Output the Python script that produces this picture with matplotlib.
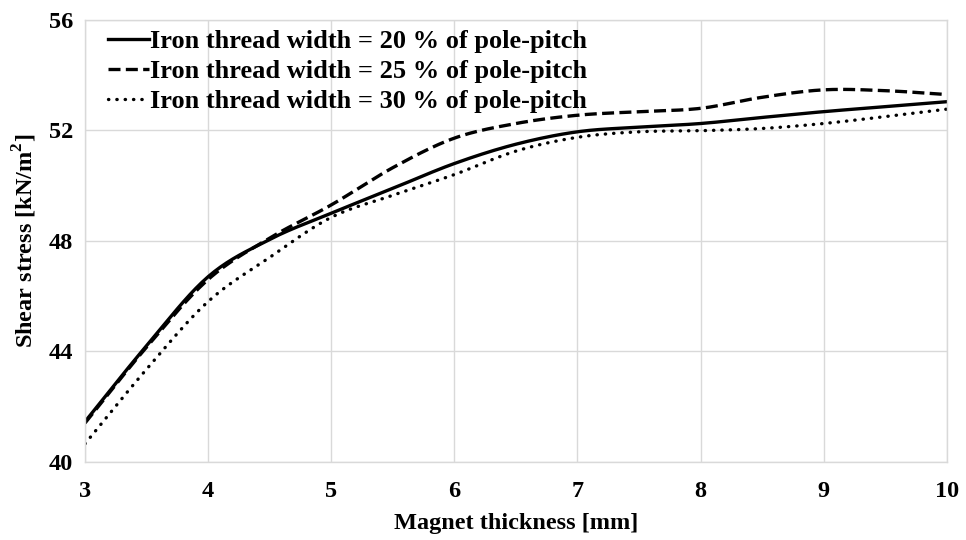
import numpy as np
import matplotlib
matplotlib.use("Agg")
import matplotlib.pyplot as plt

thickness = [3, 3.5, 4, 4.5, 5, 5.5, 6, 6.5, 7, 7.5, 8, 8.5, 9, 9.5, 10]
stress_20 = [41.45, 44.2, 46.7, 48.05, 49.0, 49.9, 50.8, 51.5, 51.95, 52.12, 52.25, 52.47, 52.68, 52.86, 53.04]
stress_25 = [41.4, 44.15, 46.6, 48.1, 49.3, 50.65, 51.72, 52.25, 52.55, 52.68, 52.8, 53.2, 53.47, 53.44, 53.3]
stress_30 = [40.65, 43.35, 45.8, 47.4, 48.85, 49.65, 50.4, 51.25, 51.75, 51.95, 51.99, 52.07, 52.25, 52.5, 52.77]
labels = ["Iron thread width = 20 % of pole-pitch",
          "Iron thread width = 25 % of pole-pitch",
          "Iron thread width = 30 % of pole-pitch"]
x_ticks = [3, 4, 5, 6, 7, 8, 9, 10]
y_ticks = [40, 44, 48, 52, 56]


def smooth(x, y, n=20):
    # Catmull-Rom rendering (Excel-style smoothed line)
    x = np.asarray(x, float); y = np.asarray(y, float)
    px = np.concatenate([[2 * x[0] - x[1]], x, [2 * x[-1] - x[-2]]])
    py = np.concatenate([[2 * y[0] - y[1]], y, [2 * y[-1] - y[-2]]])
    xs, ys = [], []
    t = np.linspace(0, 1, n, endpoint=False)
    for i in range(1, len(px) - 2):
        def cr(a0, a1, a2, a3):
            return 0.5 * ((2 * a1) + (-a0 + a2) * t + (2 * a0 - 5 * a1 + 4 * a2 - a3) * t ** 2
                          + (-a0 + 3 * a1 - 3 * a2 + a3) * t ** 3)
        xs.append(cr(px[i-1], px[i], px[i+1], px[i+2]))
        ys.append(cr(py[i-1], py[i], py[i+1], py[i+2]))
    xs.append([x[-1]]); ys.append([y[-1]])
    return np.concatenate(xs), np.concatenate(ys)


plt.rcParams['font.family'] = ['Liberation Serif', 'DejaVu Serif']
plt.rcParams['font.weight'] = 'bold'
plt.rcParams['mathtext.fontset'] = 'custom'
plt.rcParams['mathtext.rm'] = 'Liberation Serif:bold'
plt.rcParams['mathtext.bf'] = 'Liberation Serif:bold'

fig = plt.figure(figsize=(9.66, 5.4), dpi=100)
ax = fig.add_axes([85 / 966, 1 - 461.7 / 540, (946.7 - 85) / 966, (461.7 - 20) / 540])

styles = [dict(linestyle='-', linewidth=2.4),
          dict(linestyle=(0, (3.6, 1.6)), linewidth=2.4),
          dict(linestyle=(0, (0.1, 2.4)), linewidth=2.4, dash_capstyle='round')]
for ys, lab, st in zip([stress_20, stress_25, stress_30], labels, styles):
    sx, sy = smooth(thickness, ys)
    ax.plot(sx, sy, color='black', label=lab, **st)

ax.set_xlim(3, 10)
ax.set_ylim(40, 56)
ax.set_xticks(x_ticks)
ax.set_yticks(y_ticks)
ax.grid(True, color='#d9d9d9', linewidth=1.0)
ax.set_axisbelow(True)
for s in ax.spines.values():
    s.set_color('#d9d9d9')
    s.set_linewidth(1.0)
ax.tick_params(length=0, labelsize=17.5)
ax.tick_params(axis='y', pad=8.5)
ax.tick_params(axis='x', pad=14)
for lbl in ax.get_xticklabels() + ax.get_yticklabels():
    lbl.set_fontweight('bold')

ax.set_xlabel('Magnet thickness [mm]', fontsize=17.5, fontweight='bold', labelpad=7.5)
ax.set_ylabel('Shear stress [kN/m$^{2}$]', fontsize=17.5, fontweight='bold', labelpad=7)

leg = ax.legend(loc='upper left', bbox_to_anchor=(0.011, 1.008), frameon=False,
                fontsize=19, handlelength=1.55, handletextpad=0.05, labelspacing=0.25,
                borderaxespad=0.1)
for t in leg.get_texts():
    t.set_fontweight('bold')

fig.savefig('out.png', dpi=100)
